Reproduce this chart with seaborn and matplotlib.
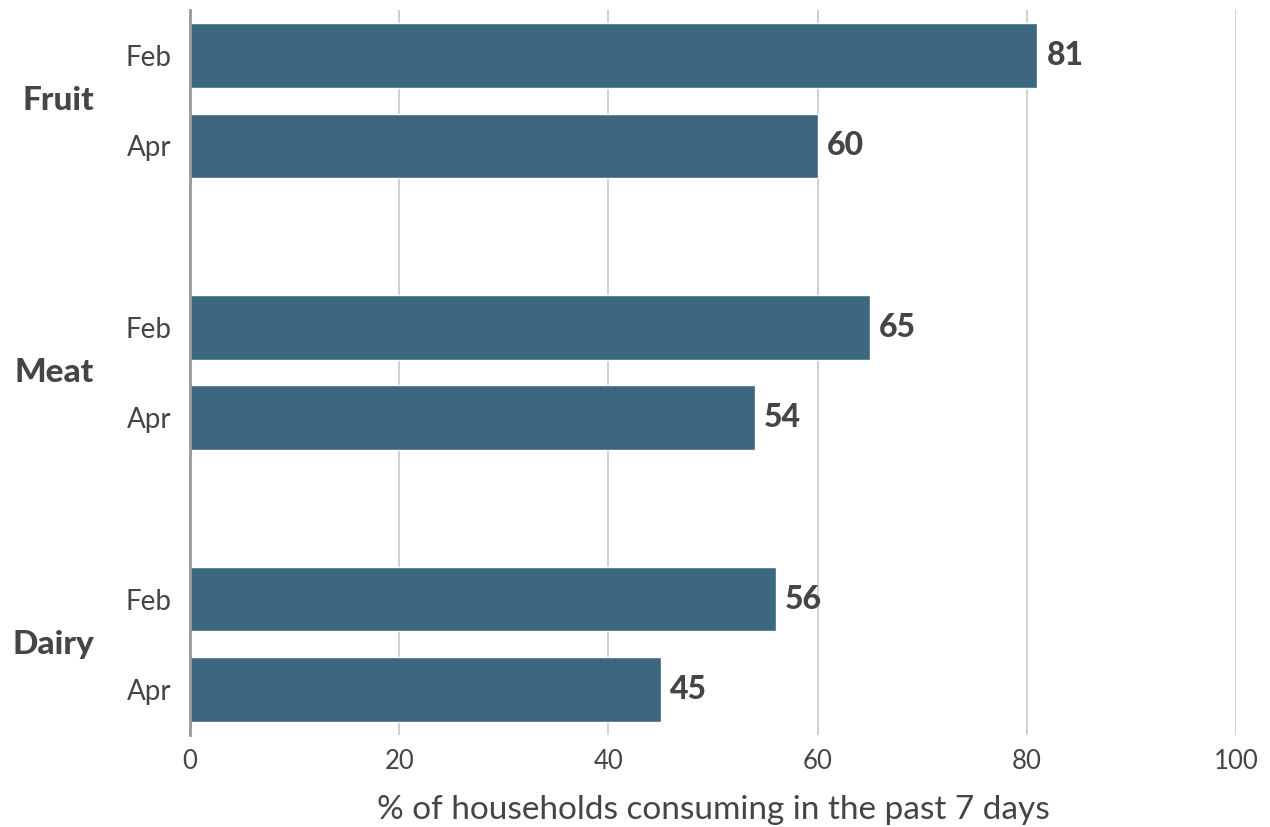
import pandas as pd
import numpy as np
import matplotlib.pyplot as plt
import matplotlib.transforms as mtransforms
import seaborn as sns

# datos
grupos = ['Fruit', 'Meat', 'Dairy']
meses = ['Feb', 'Apr']
valores = [81, 60, 65, 54, 56, 45]
posiciones = [0, 1, 3, 4, 6, 7]
xticks = [0, 20, 40, 60, 80, 100]

color_barra = '#3d6680'
color_texto = '#454545'

sns.set_theme(style='white')
plt.rcParams['font.family'] = ['Lato', 'DejaVu Sans']

df = pd.DataFrame({
    'pos': posiciones,
    'valor': valores,
    'mes': meses * len(grupos),
})

fig = plt.figure(figsize=(12.7, 8.27), dpi=100)
ax = fig.add_axes([0.1496, 0.1112, 0.9732 - 0.1496, 0.9879 - 0.1112])

sns.barplot(data=df, x='valor', y='pos', orient='h', native_scale=True,
            width=0.714, color=color_barra, saturation=1, errorbar=None, ax=ax)

ax.set_xlim(0, 100)
ax.set_ylim(7.5, -0.5)
ax.set_xticks(xticks)
ax.set_xticklabels([str(t) for t in xticks], fontsize=18.5, color=color_texto)
ax.set_yticks(df['pos'])
ax.set_yticklabels(df['mes'], fontsize=20, color=color_texto)
ax.tick_params(axis='y', length=0, pad=13)
ax.tick_params(axis='x', length=0, pad=10)

ax.grid(axis='x', color='#cccccc', linewidth=1.3)
ax.set_axisbelow(True)
for lado in ['top', 'right', 'bottom']:
    ax.spines[lado].set_visible(False)
ax.spines['left'].set_color('#999999')
ax.spines['left'].set_linewidth(2)

ax.set_xlabel('% of households consuming in the past 7 days', fontsize=24,
              color=color_texto, labelpad=15)
ax.set_ylabel('')

# etiquetas de valor
for p, v in zip(df['pos'], df['valor']):
    ax.text(v + 0.9, p, str(v), va='center', ha='left', fontsize=23,
            fontweight=900, color=color_texto)

# nombres de grupo
trans = mtransforms.blended_transform_factory(ax.transAxes, ax.transData)
for i, g in enumerate(grupos):
    centro = np.mean(posiciones[2 * i:2 * i + 2])
    ax.text(-0.092, centro, g, transform=trans, ha='right', va='center',
            fontsize=24, fontweight=900, color=color_texto)

fig.savefig('out.png', dpi=100)
